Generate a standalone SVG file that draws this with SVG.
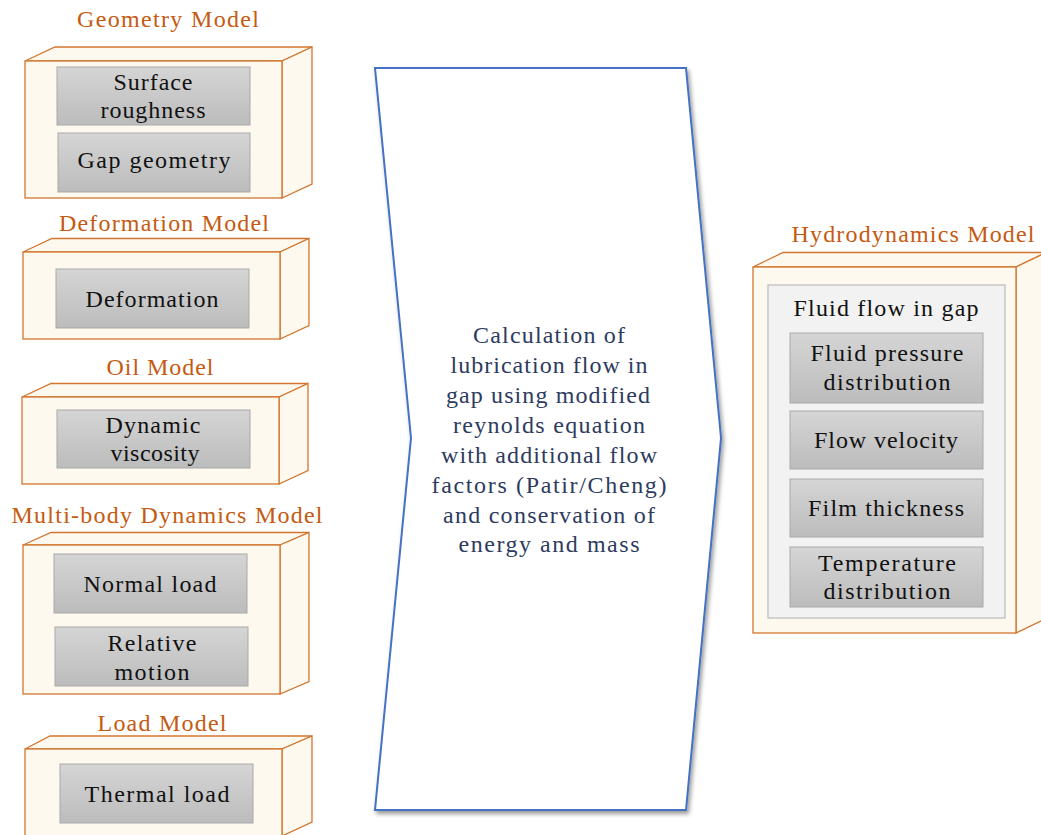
<svg xmlns="http://www.w3.org/2000/svg" width="1041" height="835" viewBox="0 0 1041 835">
  <style>
    .cube { fill: #fef9ef; stroke: #d2762f; stroke-width: 1.3; stroke-linejoin: miter; }
    .title { fill: #c55a11; }
    .item { fill: url(#itemGrad); stroke: #a9a9a9; stroke-width: 1; }
    .label { fill: #111111; }
    .panel { fill: #f2f2f2; stroke: #bfbfbf; stroke-width: 1.3; }
    .chev { fill: #ffffff; stroke: #4472c4; stroke-width: 2; stroke-linejoin: miter; }
    .chevtext { fill: #2e3b5e; }
  </style>
  <defs>
    <linearGradient id="itemGrad" x1="0" y1="0" x2="0" y2="1">
      <stop offset="0" stop-color="#d5d5d5"/>
      <stop offset="1" stop-color="#bcbcbc"/>
    </linearGradient>
    <filter id="shadow" x="-10%" y="-10%" width="120%" height="120%">
      <feDropShadow dx="2" dy="3" stdDeviation="2.2" flood-color="#000000" flood-opacity="0.4"/>
    </filter>
  </defs>

  <rect width="1041" height="835" fill="#ffffff"/>

  <g font-family="Liberation Serif, Times New Roman, serif" font-size="24" text-anchor="middle">

  <!-- Geometry model -->
  <g id="geometry-model">
    <text class="title" x="168" y="27" textLength="182">Geometry Model</text>
    <path class="cube" d="M25,61 L55,47 L312,47 L282,61 Z"/>
    <path class="cube" d="M282,61 L312,47 L312,184 L282,198 Z"/>
    <rect class="cube" x="25" y="61" width="257" height="137"/>
    <rect class="item" x="57" y="67" width="193" height="58"/>
    <text class="label" x="153" y="90" textLength="79">Surface</text>
    <text class="label" x="153" y="118" textLength="105">roughness</text>
    <rect class="item" x="58" y="133" width="192" height="59"/>
    <text class="label" x="154" y="168" textLength="153">Gap geometry</text>
  </g>

  <!-- Deformation model -->
  <g id="deformation-model">
    <text class="title" x="164" y="231" textLength="210">Deformation Model</text>
    <path class="cube" d="M23,252 L52,238.5 L309,238.5 L280,252 Z"/>
    <path class="cube" d="M280,252 L309,238.5 L309,325.5 L280,339 Z"/>
    <rect class="cube" x="23" y="252" width="257" height="87"/>
    <rect class="item" x="56" y="269" width="193" height="59"/>
    <text class="label" x="152" y="307" textLength="133">Deformation</text>
  </g>

  <!-- Oil model -->
  <g id="oil-model">
    <text class="title" x="160" y="375" textLength="107">Oil Model</text>
    <path class="cube" d="M22,397 L51,383.5 L308,383.5 L279,397 Z"/>
    <path class="cube" d="M279,397 L308,383.5 L308,470.5 L279,484 Z"/>
    <rect class="cube" x="22" y="397" width="257" height="87"/>
    <rect class="item" x="57" y="410" width="193" height="58"/>
    <text class="label" x="153" y="433" textLength="95">Dynamic</text>
    <text class="label" x="155" y="461" textLength="89">viscosity</text>
  </g>

  <!-- Multi-body dynamics model -->
  <g id="multibody-model">
    <text class="title" x="167" y="523" textLength="311">Multi-body Dynamics Model</text>
    <path class="cube" d="M23,545 L51,532.5 L309,532.5 L280,545 Z"/>
    <path class="cube" d="M280,545 L309,532.5 L309,681.5 L280,694 Z"/>
    <rect class="cube" x="23" y="545" width="257" height="149"/>
    <rect class="item" x="54" y="554" width="193" height="59"/>
    <text class="label" x="150" y="592" textLength="133">Normal load</text>
    <rect class="item" x="55" y="627" width="193" height="59"/>
    <text class="label" x="152" y="651" textLength="89">Relative</text>
    <text class="label" x="152" y="680" textLength="75">motion</text>
  </g>

  <!-- Load model -->
  <g id="load-model">
    <text class="title" x="162" y="731" textLength="129">Load Model</text>
    <path class="cube" d="M25,749 L50,736 L312,736 L282,749 Z"/>
    <path class="cube" d="M282,749 L312,736 L312,822 L282,836 Z"/>
    <rect class="cube" x="25" y="749" width="257" height="88"/>
    <rect class="item" x="60" y="764" width="193" height="59"/>
    <text class="label" x="157" y="802" textLength="145">Thermal load</text>
  </g>

  <!-- Central process step -->
  <g id="lubrication-calculation">
    <path class="chev" filter="url(#shadow)" d="M375,68 L686,68 L721,438 L686,810 L375,810 L411,438 Z"/>
    <text class="chevtext" x="549" y="343" textLength="152">Calculation of</text>
    <text class="chevtext" x="549" y="373" textLength="197">lubrication flow in</text>
    <text class="chevtext" x="548" y="403" textLength="204">gap using modified</text>
    <text class="chevtext" x="549" y="433" textLength="192">reynolds equation</text>
    <text class="chevtext" x="549" y="463" textLength="216">with additional flow</text>
    <text class="chevtext" x="549" y="493" textLength="235">factors (Patir/Cheng)</text>
    <text class="chevtext" x="549" y="523" textLength="212">and conservation of</text>
    <text class="chevtext" x="549" y="552" textLength="181">energy and mass</text>
  </g>

  <!-- Hydrodynamics model -->
  <g id="hydrodynamics-model">
    <text class="title" x="913" y="242" textLength="243">Hydrodynamics Model</text>
    <path class="cube" d="M753,267 L783,252.5 L1046,252.5 L1016,267 Z"/>
    <path class="cube" d="M1016,267 L1046,252.5 L1046,618.5 L1016,633 Z"/>
    <rect class="cube" x="753" y="267" width="263" height="366"/>
    <rect class="panel" x="768" y="285" width="237" height="333"/>
    <text class="label" x="886" y="316" textLength="185">Fluid flow in gap</text>
    <rect class="item" x="790" y="333" width="193" height="70"/>
    <text class="label" x="887" y="361" textLength="153">Fluid pressure</text>
    <text class="label" x="887" y="390" textLength="127">distribution</text>
    <rect class="item" x="790" y="411" width="193" height="58"/>
    <text class="label" x="886" y="448" textLength="144">Flow velocity</text>
    <rect class="item" x="790" y="479" width="193" height="58"/>
    <text class="label" x="886" y="516" textLength="156">Film thickness</text>
    <rect class="item" x="790" y="547" width="193" height="60"/>
    <text class="label" x="887" y="571" textLength="138">Temperature</text>
    <text class="label" x="887" y="599" textLength="127">distribution</text>
  </g>

  </g>
</svg>
